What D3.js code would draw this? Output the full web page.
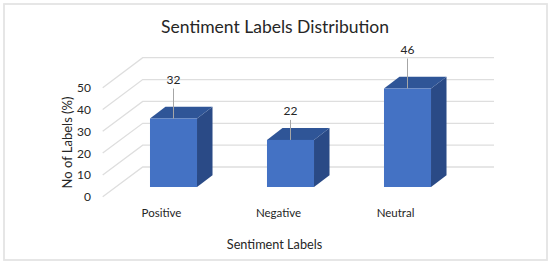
<!DOCTYPE html>
<html>
<head>
<meta charset="utf-8">
<script src="https://cdn.jsdelivr.net/npm/d3@7"></script>
<style>
html,body{margin:0;padding:0;background:#fff}
svg{display:block}
text{font-family:Lato,"Open Sans",sans-serif;fill:#262626}
</style>
</head>
<body>
<svg id="chart" width="550" height="263"></svg>
<script>
const categories = ["Positive", "Negative", "Neutral"];
const values = [32, 22, 46];
const yTicks = [0, 10, 20, 30, 40, 50];
const titleText = "Sentiment Labels Distribution";
const xTitleText = "Sentiment Labels";
const yTitleText = "No of Labels (%)";

const svg = d3.select("#chart");
const x = d3.scaleBand().domain(categories).range([115, 466]).paddingInner(0.598).paddingOuter(0.299);
const yFront = d3.scaleLinear().domain([0, 50]).range([187, 80]);
const yWall = d3.scaleLinear().domain([0, 50]).range([167, 57.7]);
const yEdge = d3.scaleLinear().domain([0, 50]).range([196.7, 87.7]);
const depthX = 15.5, depthY = 11.8;

svg.append("rect").attr("x", 4).attr("y", 4).attr("width", 543).attr("height", 256)
  .attr("fill", "#fff").attr("stroke", "#e4e4e4").attr("stroke-width", 1.8);

svg.append("text").attr("x", 275).attr("y", 33).attr("text-anchor", "middle")
  .attr("font-size", 17.5).text(titleText);

const grid = svg.append("g").attr("fill", "none").attr("stroke", "#dedede").attr("stroke-width", 1.3);
grid.selectAll("path").data(yTicks).join("path")
  .attr("d", d => `M102.7,${yEdge(d)}L142.7,${yWall(d)}L494,${yWall(d)}`);

const yLabels = svg.append("g").attr("font-size", 12).attr("text-anchor", "end");
yLabels.selectAll("text").data(yTicks).join("text")
  .attr("x", 91).attr("y", d => yEdge(d) + 4.5).text(d => d);

const bars = svg.append("g").selectAll("g").data(categories).join("g");
bars.each(function (c, i) {
  const g = d3.select(this);
  const x0 = x(c), x1 = x0 + x.bandwidth(), yb = yFront(0), yt = yFront(values[i]);
  g.append("path").attr("fill", "#2a4a86")
    .attr("d", `M${x1},${yb}L${x1 + depthX},${yb - depthY}L${x1 + depthX},${yt - depthY}L${x1},${yt}Z`);
  g.append("path").attr("fill", "#2f5597")
    .attr("d", `M${x0},${yt}L${x0 + depthX},${yt - depthY}L${x1 + depthX},${yt - depthY}L${x1},${yt}Z`);
  g.append("rect").attr("x", x0).attr("y", yt).attr("width", x.bandwidth()).attr("height", yb - yt).attr("fill", "#4472c4");
  const cx = x0 + x.bandwidth() / 2;
  const leader = i === 1 ? 20 : 30;
  g.append("line").attr("x1", cx).attr("x2", cx).attr("y1", yt).attr("y2", yt - leader)
    .attr("stroke", "#a6a6a6").attr("stroke-width", 1);
  g.append("text").attr("x", cx).attr("y", yt - leader - 5).attr("text-anchor", "middle")
    .attr("font-size", 12).text(values[i]);
  g.append("text").attr("x", cx - 12).attr("y", 217).attr("text-anchor", "middle")
    .attr("font-size", 11.5).text(c);
});

svg.append("text").attr("x", 274.5).attr("y", 249).attr("text-anchor", "middle").attr("font-size", 12.7).text(xTitleText);
svg.append("text").attr("transform", "translate(71.5,142.5) rotate(-90)").attr("text-anchor", "middle")
  .attr("font-size", 13).text(yTitleText);
</script>
</body>
</html>
